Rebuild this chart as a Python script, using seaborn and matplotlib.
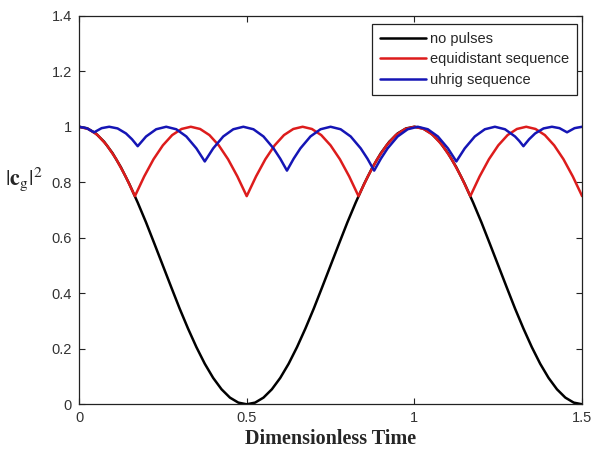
import numpy as np
import pandas as pd
import matplotlib
matplotlib.use('Agg')
import matplotlib.pyplot as plt
import seaborn as sns

# values
t_free = [0.0, 0.025, 0.05, 0.075, 0.1, 0.125, 0.15, 0.175, 0.2, 0.225,
          0.25, 0.275, 0.3, 0.325, 0.35, 0.375, 0.4, 0.425, 0.45, 0.475,
          0.5, 0.525, 0.55, 0.575, 0.6, 0.625, 0.65, 0.675, 0.7, 0.725,
          0.75, 0.775, 0.8, 0.825, 0.85, 0.875, 0.9, 0.925, 0.95, 0.975,
          1.0, 1.025, 1.05, 1.075, 1.1, 1.125, 1.15, 1.175, 1.2, 1.225,
          1.25, 1.275, 1.3, 1.325, 1.35, 1.375, 1.4, 1.425, 1.45, 1.475, 1.5]
c_free = [1.000, 0.994, 0.976, 0.946, 0.905, 0.854, 0.794, 0.727, 0.655, 0.578,
          0.500, 0.422, 0.345, 0.273, 0.206, 0.146, 0.095, 0.054, 0.024, 0.006,
          0.000, 0.006, 0.024, 0.054, 0.095, 0.146, 0.206, 0.273, 0.345, 0.422,
          0.500, 0.578, 0.655, 0.727, 0.794, 0.854, 0.905, 0.946, 0.976, 0.994,
          1.000, 0.994, 0.976, 0.946, 0.905, 0.854, 0.794, 0.727, 0.655, 0.578,
          0.500, 0.422, 0.345, 0.273, 0.206, 0.146, 0.095, 0.054, 0.024, 0.006, 0.000]

t_equi = [0.0, 0.0278, 0.0556, 0.0833, 0.1111, 0.1389, 0.1667, 0.1944, 0.2222, 0.25,
          0.2778, 0.3056, 0.3333, 0.3611, 0.3889, 0.4167, 0.4444, 0.4722, 0.5, 0.5278,
          0.5556, 0.5833, 0.6111, 0.6389, 0.6667, 0.6944, 0.7222, 0.75, 0.7778, 0.8056,
          0.8333, 0.8611, 0.8889, 0.9167, 0.9444, 0.9722, 1.0, 1.0278, 1.0556, 1.0833,
          1.1111, 1.1389, 1.1667, 1.1944, 1.2222, 1.25, 1.2778, 1.3056, 1.3333, 1.3611,
          1.3889, 1.4167, 1.4444, 1.4722, 1.5]
c_equi = [1.000, 0.992, 0.970, 0.933, 0.883, 0.821, 0.750, 0.821, 0.883, 0.933,
          0.970, 0.992, 1.000, 0.992, 0.970, 0.933, 0.883, 0.821, 0.750, 0.821,
          0.883, 0.933, 0.970, 0.992, 1.000, 0.992, 0.970, 0.933, 0.883, 0.821,
          0.750, 0.821, 0.883, 0.933, 0.970, 0.992, 1.000, 0.992, 0.970, 0.933,
          0.883, 0.821, 0.750, 0.821, 0.883, 0.933, 0.970, 0.992, 1.000, 0.992,
          0.970, 0.933, 0.883, 0.821, 0.750]

t_uhrig = [0.0, 0.0225, 0.045, 0.0675, 0.09, 0.115, 0.14, 0.158, 0.175,
           0.2, 0.23, 0.26, 0.29, 0.32, 0.35, 0.375,
           0.4, 0.43, 0.46, 0.49, 0.52, 0.55, 0.58, 0.6, 0.62,
           0.64, 0.66, 0.69, 0.72, 0.75, 0.78, 0.81, 0.84, 0.86, 0.88,
           0.9, 0.92, 0.95, 0.98, 1.01, 1.04, 1.07, 1.1, 1.125,
           1.15, 1.18, 1.21, 1.24, 1.27, 1.3, 1.3125, 1.325,
           1.342, 1.36, 1.385, 1.41, 1.4325, 1.455, 1.4775, 1.5]
c_uhrig = [1.000, 0.995, 0.980, 0.995, 1.000, 0.994, 0.976, 0.955, 0.930,
           0.965, 0.991, 1.000, 0.991, 0.965, 0.922, 0.875,
           0.922, 0.965, 0.991, 1.000, 0.991, 0.965, 0.922, 0.885, 0.842,
           0.885, 0.922, 0.965, 0.991, 1.000, 0.991, 0.965, 0.922, 0.885, 0.842,
           0.885, 0.922, 0.965, 0.991, 1.000, 0.991, 0.965, 0.922, 0.875,
           0.922, 0.965, 0.991, 1.000, 0.991, 0.965, 0.949, 0.930,
           0.955, 0.976, 0.994, 1.000, 0.995, 0.980, 0.995, 1.000]

labels = ['no pulses', 'equidistant sequence', 'uhrig sequence']
colors = ['#000000', '#dd1c1c', '#1515b5']

df = pd.concat([
    pd.DataFrame({'t': t_free, 'c': c_free, 'seq': labels[0]}),
    pd.DataFrame({'t': t_equi, 'c': c_equi, 'seq': labels[1]}),
    pd.DataFrame({'t': t_uhrig, 'c': c_uhrig, 'seq': labels[2]}),
], ignore_index=True)

sns.set_style('ticks')
plt.rcParams['font.family'] = ['Liberation Sans', 'DejaVu Sans']
plt.rcParams['mathtext.fontset'] = 'stix'

fig, ax = plt.subplots(figsize=(5.94, 4.5), dpi=100)
fig.subplots_adjust(left=0.133, right=0.98, top=0.965, bottom=0.1016)

sns.lineplot(data=df, x='t', y='c', hue='seq', palette=dict(zip(labels, colors)),
             sort=False, estimator=None, lw=1.8, ax=ax)

ax.set_xlim(0, 1.5)
ax.set_ylim(0, 1.4)
ax.set_xticks([0, 0.5, 1, 1.5])
ax.set_xticklabels(['0', '0.5', '1', '1.5'])
ax.set_yticks([0, 0.2, 0.4, 0.6, 0.8, 1, 1.2, 1.4])
ax.set_yticklabels(['0', '0.2', '0.4', '0.6', '0.8', '1', '1.2', '1.4'])
ax.tick_params(direction='in', top=True, right=True, length=4, width=0.8,
               labelsize=10.5, labelcolor='#333333', color='#222222', pad=5)
for s in ax.spines.values():
    s.set_visible(True)
    s.set_color('#222222')
    s.set_linewidth(0.9)

ax.set_xlabel('Dimensionless Time', family='Liberation Serif', fontweight='bold',
              fontsize=14.5, labelpad=3)
ax.set_ylabel(r'$|\mathbf{c}_{\mathrm{g}}|^2$', fontsize=16, rotation=0)
ax.yaxis.set_label_coords(-0.11, 0.545)

leg = ax.legend(loc='upper right', bbox_to_anchor=(0.990, 0.979), borderaxespad=0,
                fontsize=10.5, handlelength=3.2, handletextpad=0.25, labelspacing=0.45,
                fancybox=False, framealpha=1, edgecolor='#222222', borderpad=0.55)
leg.get_frame().set_linewidth(0.9)

fig.savefig('out.png', dpi=100)
